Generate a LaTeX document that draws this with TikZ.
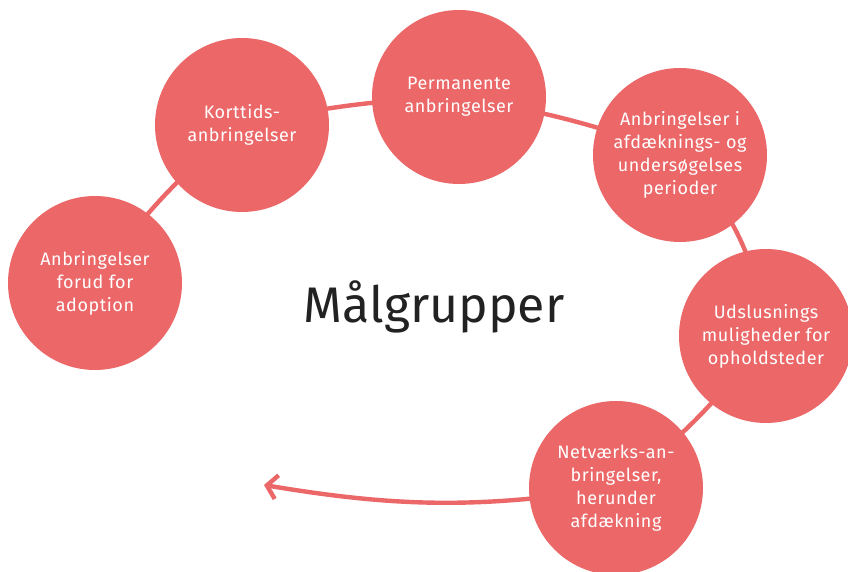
\documentclass[tikz,border=0pt]{standalone}
\usepackage{fontspec}
\setmainfont{Fira Sans}[LetterSpace=3]
\usepackage{tikz}
\usetikzlibrary{arrows.meta}
\definecolor{coral}{RGB}{235,103,104}
\definecolor{titlegray}{RGB}{34,34,34}
\tikzset{
  maal/.style={circle, fill=coral, text=white, minimum size=87pt, inner sep=0pt,
    align=center, font=\fontsize{9}{11.5}\selectfont},
  link/.style={coral, line width=2.2pt},
}

\begin{document}
\begin{tikzpicture}[x=0.5pt, y=-0.5pt]
        \useasboundingbox (0,0) rectangle (848,572);
        % connectors behind the circles
        \coordinate (c1) at (95,283);
        \coordinate (c2) at (242,125);
        \coordinate (c3) at (459,97);
        \coordinate (c4) at (680,155);
        \coordinate (c5) at (766,336);
        \coordinate (c6) at (616,488);
        \coordinate (pil) at (264,485);
        \draw[link] (c1) to[bend left=8] (c2);
        \draw[link] (c2) to[bend left=5] (c3);
        \draw[link] (c3) to[bend left=5] (c4);
        \draw[link] (c4) to[bend left=18] (c5);
        \draw[link] (c5) to[bend left=8] (c6);
        \draw[link, -{Straight Barb[length=5pt, width=12pt]}] (c6) to[bend left=9] (pil);
        % the groups
        \node[maal] (adoption) at (c1) {Anbringelser\\forud for\\adoption};
        \node[maal] (korttid) at (c2) {Korttids-\\anbringelser};
        \node[maal] (permanent) at (c3) {Permanente\\anbringelser};
        \node[maal] (afdaek) at (c4) {Anbringelser i\\afdæknings- og\\undersøgelses\\perioder};
        \node[maal] (udslus) at (c5) {Udslusnings\\muligheder for\\opholdsteder};
        \node[maal] (netvaerk) at (c6) {Netværks-an-\\bringelser,\\herunder\\afdækning};
        \node[text=titlegray, font=\fontsize{25}{30}\selectfont\addfontfeatures{LetterSpace=0}] (titel) at (434,307) {Målgrupper};
\end{tikzpicture}
\end{document}
